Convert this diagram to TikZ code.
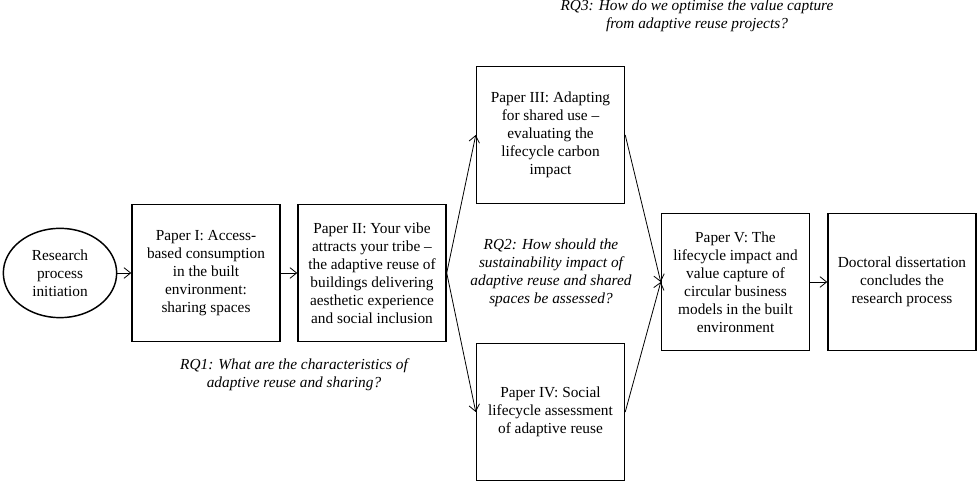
\documentclass[tikz,border=0pt]{standalone}
\usepackage{fontspec}
\setmainfont{Liberation Serif}
\usetikzlibrary{shapes.geometric, arrows.meta}
\tikzset{
    paper/.style={draw, line width=1.1pt, minimum width=111pt, minimum height=103pt,
        align=center, inner sep=0pt, font=\fontsize{11.5}{13.5}\selectfont},
    rq/.style={align=center, inner sep=0pt, font=\fontsize{11.5}{13.5}\selectfont\itshape},
    link/.style={->, line width=0.6pt}
}
\begin{document}
\begin{tikzpicture}[x=0.75pt, y=-0.75pt, >={Straight Barb[length=5pt, width=8pt]}]
\useasboundingbox (0,0) rectangle (979,484);
% start of the process
\node[ellipse, draw, line width=1.1pt, minimum width=85pt, minimum height=67pt, inner sep=0pt,
    align=center, font=\fontsize{11.5}{13.5}\selectfont] (start) at (60,273) {Research\\process\\initiation};
% papers
\node[paper] (p1) at (206,273) {Paper I: Access-\\based consumption\\in the built\\environment:\\sharing spaces};
\node[paper] (p2) at (372,273) {Paper II: Your vibe\\attracts your tribe --\\the adaptive reuse of\\buildings delivering\\aesthetic experience\\and social inclusion};
\node[paper] (p3) at (550.5,135) {Paper III: Adapting\\for shared use --\\evaluating the\\lifecycle carbon\\impact};
\node[paper] (p4) at (550.5,412) {Paper IV: Social\\lifecycle assessment\\of adaptive reuse};
\node[paper] (p5) at (735.5,282) {Paper V: The\\lifecycle impact and\\value capture of\\circular business\\models in the built\\environment};
\node[paper] (end) at (902,282) {Doctoral dissertation\\concludes the\\research process};
% research questions
\node[rq] (rq1) at (294,374.5) {RQ1: What are the characteristics of\\adaptive reuse and sharing?};
\node[rq] (rq2) at (551,273) {RQ2: How should the\\sustainability impact of\\adaptive reuse and shared\\spaces be assessed?};
\node[rq] (rq3) at (697,16) {RQ3: How do we optimise the value capture\\from adaptive reuse projects?};

\draw[link](start)--(p1);
\draw[link](p1)--(p2);
\draw[link](p2.east)--(p3.west);
\draw[link](p2.east)--(p4.west);
\draw[link](p3.east)--(p5.west);
\draw[link](p4.east)--(p5.west);
\draw[link](p5)--(end);

\end{tikzpicture}
\end{document}
